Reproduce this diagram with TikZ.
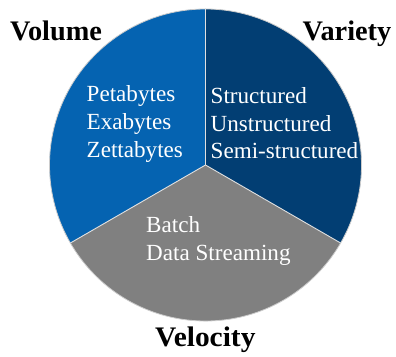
\documentclass[tikz,border=0pt]{standalone}
\usepackage{fontspec}
\setmainfont{Liberation Serif}
\definecolor{volblue}{RGB}{5,99,177}
\definecolor{varnavy}{RGB}{2,62,115}
\definecolor{velgray}{RGB}{128,128,128}
\begin{document}
\begin{tikzpicture}[x=1pt,y=1pt,
  slice/.style={draw=white!88!black, line width=0.9pt, line join=round},
  heading/.style={font=\fontsize{28.3}{33}\selectfont\bfseries, text=black, inner sep=0pt, anchor=base west},
  item/.style={font=\fontsize{23.1}{28}\selectfont, text=white, inner sep=0pt, anchor=base west}]
\useasboundingbox (0,0) rectangle (396,356);
\coordinate (c) at (205.5,191);
% three equal slices of the pie
\fill[volblue]  (c) -- ++(90:156)  arc[start angle=90,  end angle=210, radius=156] -- cycle;
\fill[velgray]  (c) -- ++(210:156) arc[start angle=210, end angle=330, radius=156] -- cycle;
\fill[varnavy]  (c) -- ++(330:156) arc[start angle=330, end angle=450, radius=156] -- cycle;
% outline and dividers
\draw[white!80!black, line width=0.8pt] (c) circle[radius=156];
\draw[slice] (c) -- ++(90:156);
\draw[slice] (c) -- ++(210:156);
\draw[slice] (c) -- ++(330:156);
% headings
\node[heading] (volume)   at (10,315.8)  {Volume};
\node[heading] (variety)  at (302.5,315.8) {Variety};
\node[heading, xscale=1.04] (velocity) at (155,9.8) {Velocity};
% volume items
\node[item] (peta)  at (86.5,254)   {Petabytes};
\node[item] (exa)   at (86.5,226.2) {Exabytes};
\node[item] (zetta) at (86.5,198.4) {Zettabytes};
% variety items
\node[item] (struct)   at (210.5,252)   {Structured};
\node[item] (unstruct) at (210.5,224.6) {Unstructured};
\node[item] (semi)     at (210.5,197)   {Semi-structured};
% velocity items
\node[item] (batch)  at (146,123.3) {Batch};
\node[item] (stream) at (146,95.3)  {Data Streaming};
\end{tikzpicture}
\end{document}
